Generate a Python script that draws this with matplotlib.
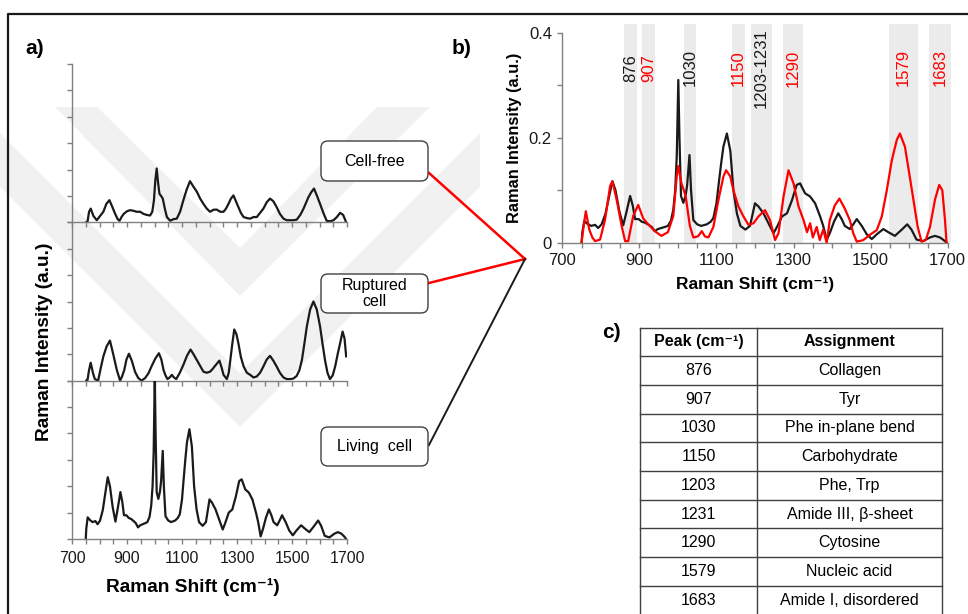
import numpy as np
import matplotlib
matplotlib.use("Agg")
import matplotlib.pyplot as plt
from matplotlib.patches import FancyBboxPatch, Polygon
from matplotlib.ticker import MultipleLocator, FixedLocator

plt.rcParams['font.family'] = ['Liberation Sans', 'DejaVu Sans']

W, H = 968, 614
AXIS = "#808080"
INK = "#1a1a1a"
RED = "#ff0000"
BAND = "#ebebeb"
WATERMARK = "#f1f1f1"

# ---------------------------------------------------------------- spectra
# living cell (black in b, bottom trace in a)
living_x = [750, 752, 757, 765, 775, 785, 793, 802, 812, 822, 830, 838, 848, 858, 867,
            876, 883, 889, 898, 906, 915, 924, 932, 940, 948, 957, 966, 974, 982, 988,
            993, 997, 1001, 1004, 1008, 1014, 1020, 1024, 1030, 1034, 1040, 1050, 1060,
            1075, 1085, 1092, 1100, 1105, 1112, 1118, 1127, 1136, 1144, 1153, 1162, 1175,
            1187, 1194, 1200, 1209, 1216, 1222, 1235, 1248, 1257, 1270, 1283, 1296, 1308,
            1317, 1330, 1343, 1356, 1369, 1377, 1386, 1395, 1405, 1416, 1425, 1433, 1446,
            1455, 1464, 1477, 1490, 1503, 1516, 1533, 1546, 1563, 1581, 1595, 1606, 1619,
            1636, 1654, 1667, 1680, 1693, 1697]
living_y = [0.0, 0.02, 0.041, 0.036, 0.032, 0.034, 0.028, 0.035, 0.055, 0.09, 0.117, 0.1,
            0.06, 0.033, 0.06, 0.089, 0.07, 0.045, 0.045, 0.04, 0.038, 0.034, 0.03, 0.022,
            0.026, 0.028, 0.03, 0.032, 0.042, 0.063, 0.1, 0.165, 0.31, 0.2, 0.089, 0.076,
            0.09, 0.11, 0.167, 0.1, 0.043, 0.035, 0.032, 0.035, 0.04, 0.047, 0.075, 0.107,
            0.15, 0.183, 0.208, 0.175, 0.1, 0.056, 0.032, 0.025, 0.032, 0.055, 0.075, 0.069,
            0.062, 0.056, 0.037, 0.018, 0.03, 0.05, 0.056, 0.081, 0.11, 0.113, 0.094, 0.088,
            0.075, 0.05, 0.032, 0.005, 0.02, 0.04, 0.056, 0.045, 0.032, 0.026, 0.035, 0.045,
            0.032, 0.016, 0.007, 0.016, 0.026, 0.02, 0.013, 0.025, 0.035, 0.025, 0.006,
            0.003, 0.01, 0.013, 0.01, 0.003, 0.0]

# ruptured cell as plotted in b (red)
rupt_b_x = [750, 755, 761, 770, 778, 785, 798, 811, 824, 830, 841, 854, 863, 871, 884, 897,
            910, 923, 940, 957, 974, 988, 997, 1001, 1009, 1020, 1031, 1040, 1052, 1062,
            1070, 1079, 1092, 1105, 1118, 1125, 1136, 1144, 1157, 1170, 1183, 1196, 1209,
            1226, 1239, 1252, 1261, 1274, 1287, 1300, 1313, 1326, 1335, 1343, 1350, 1360,
            1368, 1377, 1386, 1394, 1407, 1419, 1433, 1446, 1455, 1464, 1481, 1498, 1516,
            1529, 1542, 1555, 1568, 1576, 1589, 1600, 1611, 1622, 1632, 1643, 1654, 1667,
            1678, 1686, 1693, 1697]
rupt_b_y = [0.0, 0.03, 0.06, 0.025, 0.01, 0.003, 0.006, 0.044, 0.108, 0.117, 0.082, 0.032,
            0.003, 0.003, 0.051, 0.072, 0.046, 0.035, 0.022, 0.013, 0.02, 0.051, 0.127,
            0.146, 0.114, 0.089, 0.032, 0.01, 0.012, 0.022, 0.012, 0.01, 0.03, 0.081, 0.126,
            0.138, 0.126, 0.1, 0.069, 0.05, 0.034, 0.037, 0.05, 0.062, 0.043, 0.005, 0.018,
            0.088, 0.138, 0.113, 0.069, 0.043, 0.02, 0.037, 0.01, 0.03, 0.005, 0.025, 0.0,
            0.043, 0.071, 0.084, 0.065, 0.043, 0.018, 0.002, 0.005, 0.015, 0.024, 0.05, 0.1,
            0.157, 0.196, 0.208, 0.183, 0.133, 0.082, 0.031, 0.002, 0.005, 0.03, 0.082, 0.11,
            0.1, 0.043, 0.0]

# ruptured cell, stacked trace in a
rupt_a_x = [752, 756, 762, 768, 776, 783, 795, 805, 814, 826, 838, 850, 863, 875, 882, 890,
            898, 907, 918, 929, 941, 953, 966, 978, 990, 1003, 1016, 1025, 1033, 1040, 1047,
            1055, 1063, 1071, 1079, 1092, 1105, 1118, 1131, 1142, 1154, 1166, 1178, 1190,
            1202, 1211, 1220, 1228, 1236, 1244, 1251, 1263, 1270, 1275, 1283, 1290, 1298,
            1305, 1314, 1324, 1336, 1348, 1360, 1372, 1384, 1396, 1408, 1420, 1432, 1444,
            1456, 1469, 1481, 1493, 1505, 1517, 1527, 1536, 1545, 1554, 1566, 1578, 1590,
            1602, 1611, 1620, 1629, 1638, 1648, 1657, 1666, 1675, 1684, 1691, 1697]
rupt_a_y = [0.0, 0.0, 0.02, 0.034, 0.015, 0.003, 0.0, 0.025, 0.046, 0.065, 0.076, 0.05,
            0.02, 0.0, 0.008, 0.02, 0.04, 0.051, 0.037, 0.017, 0.005, 0.0, 0.005, 0.014,
            0.028, 0.042, 0.052, 0.04, 0.02, 0.01, 0.003, 0.006, 0.011, 0.006, 0.003, 0.015,
            0.03, 0.047, 0.059, 0.05, 0.039, 0.028, 0.017, 0.015, 0.017, 0.022, 0.028, 0.033,
            0.038, 0.025, 0.011, 0.003, 0.015, 0.036, 0.07, 0.097, 0.088, 0.071, 0.045,
            0.027, 0.015, 0.011, 0.006, 0.008, 0.015, 0.027, 0.04, 0.047, 0.038, 0.027,
            0.015, 0.006, 0.003, 0.003, 0.004, 0.009, 0.02, 0.039, 0.07, 0.103, 0.135, 0.15,
            0.135, 0.103, 0.07, 0.039, 0.015, 0.003, 0.01, 0.027, 0.05, 0.071, 0.093, 0.08,
            0.046]

# cell-free medium, top trace in a
free_x = [752, 756, 762, 768, 778, 790, 802, 814, 825, 836, 846, 857, 866, 873, 880, 888,
          900, 911, 923, 935, 948, 960, 972, 984, 992, 998, 1003, 1008, 1013, 1018, 1024,
          1030, 1038, 1045, 1057, 1069, 1081, 1093, 1105, 1117, 1129, 1141, 1154, 1166,
          1178, 1190, 1202, 1215, 1227, 1239, 1251, 1260, 1269, 1278, 1287, 1296, 1305,
          1314, 1324, 1336, 1348, 1360, 1372, 1384, 1396, 1408, 1420, 1432, 1444, 1456,
          1469, 1481, 1493, 1505, 1517, 1530, 1542, 1551, 1560, 1570, 1580, 1591, 1602,
          1614, 1626, 1638, 1651, 1663, 1675, 1686, 1697]
free_y = [0.0, 0.0, 0.02, 0.026, 0.012, 0.004, 0.012, 0.02, 0.035, 0.042, 0.03, 0.016,
          0.006, 0.003, 0.01, 0.016, 0.021, 0.023, 0.022, 0.02, 0.02, 0.016, 0.014, 0.013,
          0.02, 0.042, 0.08, 0.102, 0.075, 0.054, 0.05, 0.045, 0.025, 0.01, 0.003, 0.006,
          0.007, 0.02, 0.042, 0.062, 0.078, 0.068, 0.058, 0.045, 0.035, 0.026, 0.02, 0.024,
          0.024, 0.02, 0.02, 0.026, 0.035, 0.045, 0.051, 0.04, 0.029, 0.018, 0.01, 0.008,
          0.007, 0.01, 0.01, 0.018, 0.026, 0.038, 0.045, 0.04, 0.029, 0.016, 0.007, 0.004,
          0.004, 0.004, 0.005, 0.014, 0.026, 0.037, 0.048, 0.057, 0.064, 0.05, 0.035,
          0.018, 0.003, 0.002, 0.004, 0.01, 0.018, 0.014, 0.0]

# highlighted bands in b
band_lo = [860, 907, 1016, 1141, 1189, 1273, 1548, 1652]
band_hi = [893, 940, 1047, 1174, 1244, 1324, 1622, 1708]
band_labels = ["876", "907", "1030", "1150", "1203-1231", "1290", "1579", "1683"]
band_colors = [INK, RED, INK, RED, INK, RED, RED, RED]

# assignment table (c)
peaks = ["876", "907", "1030", "1150", "1203", "1231", "1290", "1579", "1683"]
assignments = ["Collagen", "Tyr", "Phe in-plane bend", "Carbohydrate", "Phe, Trp",
               "Amide III, β-sheet", "Cytosine", "Nucleic acid", "Amide I, disordered"]

fig = plt.figure(figsize=(W / 100, H / 100), dpi=100)


def px_axes(x0, y0, x1, y1, **kw):
    return fig.add_axes([x0 / W, 1 - y1 / H, (x1 - x0) / W, (y1 - y0) / H], **kw)


def style_axes(ax):
    for s in ("top", "right"):
        ax.spines[s].set_visible(False)
    for s in ("left", "bottom"):
        ax.spines[s].set_color(AXIS)
        ax.spines[s].set_linewidth(1.0)
    ax.set_facecolor("none")
    ax.tick_params(which="both", direction="out", color=AXIS, length=3.5, width=1.0,
                   labelcolor=INK)
    ax.set_xlim(700, 1700)
    ax.xaxis.set_major_locator(FixedLocator(np.arange(700, 1701, 200)))
    ax.xaxis.set_minor_locator(MultipleLocator(50))


# ---------------------------------------------------------------- background
bg = px_axes(0, 0, W, H, zorder=-1)
bg.set_xlim(0, W)
bg.set_ylim(H, 0)
bg.axis("off")
chevrons = [
    [(55, 107), (97, 107), (240, 248), (377, 107), (430, 107), (240, 296)],
    [(0, 133), (0, 187), (240, 427), (480, 187), (480, 133), (240, 373)],
]
for pts in chevrons:
    bg.add_patch(Polygon(pts, closed=True, fc=WATERMARK, ec="none"))

# ---------------------------------------------------------------- panel a
stack = [(free_x, free_y), (rupt_a_x, rupt_a_y), (living_x, living_y)]
top, bot = 64.0, 539.0
step = (bot - top) / 3
for i, (xs, ys) in enumerate(stack):
    ax = px_axes(72, top + i * step, 347, top + (i + 1) * step)
    style_axes(ax)
    ax.set_ylim(0, 0.3)
    ax.yaxis.set_major_locator(MultipleLocator(0.05))
    ax.set_yticklabels([])
    ax.plot(xs, ys, color=INK, lw=1.6, solid_joinstyle="round")
    if i < 2:
        ax.set_xticklabels([])
    else:
        ax.tick_params(axis="x", labelsize=11.5, pad=5)

# ---------------------------------------------------------------- panel b
axb = px_axes(562.3, 23.8, 947.7, 242.7)
style_axes(axb)
axb.set_ylim(0, 0.417)
axb.spines["left"].set_bounds(0, 0.4)
axb.set_yticks([0, 0.2, 0.4])
axb.set_yticklabels(["0", "0.2", "0.4"])
axb.yaxis.set_minor_locator(MultipleLocator(0.1))
axb.tick_params(labelsize=12, pad=4)
for lo, hi, lab, c in zip(band_lo, band_hi, band_labels, band_colors):
    axb.axvspan(lo, hi, color=BAND, lw=0, zorder=0, clip_on=False)
    axb.text((lo + hi) / 2, 0.333, lab, rotation=90, ha="center", va="center",
             color=c, fontsize=12)
axb.plot(living_x, living_y, color=INK, lw=1.6, zorder=3)
axb.plot(rupt_b_x, rupt_b_y, color=RED, lw=1.6, zorder=4)

# ---------------------------------------------------------------- overlay
ov = px_axes(0, 0, W, H, zorder=10)
ov.set_xlim(0, W)
ov.set_ylim(H, 0)
ov.axis("off")

ov.plot([8, 8, W + 5], [H + 5, 14, 14], color=INK, lw=1.6, clip_on=False)

ov.text(35, 48, "a)", fontsize=15, fontweight="bold", ha="center", va="center")
ov.text(462, 48, "b)", fontsize=15, fontweight="bold", ha="center", va="center")
ov.text(611, 332, "c)", fontsize=15, fontweight="bold", ha="center", va="center")

ov.text(193, 587, "Raman Shift (cm⁻¹)", fontsize=13.8, fontweight="bold",
        ha="center", va="center")
ov.text(45, 342, "Raman Intensity (a.u.)", fontsize=13.8, fontweight="bold",
        ha="center", va="center", rotation=90)
ov.text(755, 284, "Raman Shift (cm⁻¹)", fontsize=12.5, fontweight="bold",
        ha="center", va="center")
ov.text(515, 138, "Raman Intensity (a.u.)", fontsize=11.8, fontweight="bold",
        ha="center", va="center", rotation=90)

# labelled boxes for the stacked traces, joined to one point beside b
hub_x, hub_y = 525, 259
boxes = [((141, 181), "Cell-free", 173, RED, 1.8),
         ((274, 313), "Ruptured\ncell", 283, RED, 1.8),
         ((427, 466), "Living  cell", 445, INK, 1.4)]
for (y0, y1), lab, y_out, col, lw in boxes:
    ov.add_patch(FancyBboxPatch((321, y0), 107, y1 - y0,
                                boxstyle="round,pad=0,rounding_size=7",
                                fc="white", ec="#404040", lw=1.0, zorder=3))
    ov.text(374.5, (y0 + y1) / 2, lab, fontsize=11.5, ha="center", va="center",
            linespacing=1.05, zorder=4)
    ov.plot([429, hub_x], [y_out, hub_y], color=col, lw=lw, zorder=2)

# ---------------------------------------------------------------- table c
cols = [640, 757.3, 941.7]
t_top, rh = 327.5, 28.7
rows = [("Peak (cm⁻¹)", "Assignment")] + list(zip(peaks, assignments))
for i, (p, a) in enumerate(rows):
    yc = t_top + (i + 0.5) * rh
    fw = "bold" if i == 0 else "normal"
    ov.text((cols[0] + cols[1]) / 2, yc, p, fontsize=11.5, fontweight=fw,
            ha="center", va="center")
    ov.text((cols[1] + cols[2]) / 2, yc, a, fontsize=11.5, fontweight=fw,
            ha="center", va="center")
n = len(rows)
for i in range(n + 1):
    ov.plot([cols[0], cols[-1]], [t_top + i * rh] * 2, color="#404040", lw=1.0,
            clip_on=False)
for c in cols:
    ov.plot([c, c], [t_top, t_top + n * rh], color="#404040", lw=1.0, clip_on=False)

fig.savefig("out.png", dpi=100)
